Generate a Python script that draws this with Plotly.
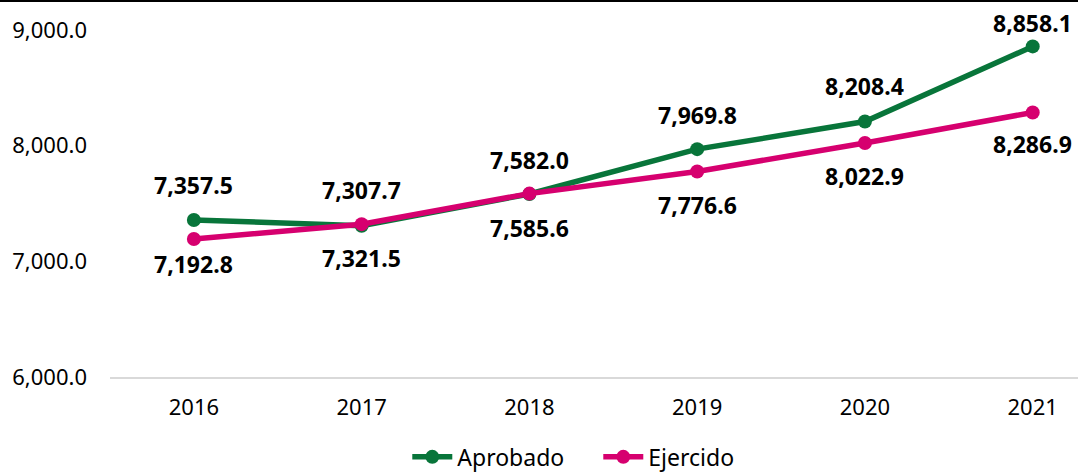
import plotly.graph_objects as go

years = ["2016", "2017", "2018", "2019", "2020", "2021"]
aprobado = [7357.5, 7307.7, 7582.0, 7969.8, 8208.4, 8858.1]
ejercido = [7192.8, 7321.5, 7585.6, 7776.6, 8022.9, 8286.9]
y_ticks = [6000, 7000, 8000, 9000]

# label offsets (pixels) - styling, kept separate from data
shift_above = [35, 36, 34, 34, 36, 23]
shift_below = [-25, -34, -34, -33, -33, -32]

GREEN = "#08753A"
PINK = "#D6006F"
FONT = "Noto Sans"

fig = go.Figure()
fig.add_trace(go.Scatter(
    x=years, y=aprobado, name="Aprobado", mode="lines+markers",
    line=dict(color=GREEN, width=5.5), marker=dict(size=14, color=GREEN),
    cliponaxis=False,
))
fig.add_trace(go.Scatter(
    x=years, y=ejercido, name="Ejercido", mode="lines+markers",
    line=dict(color=PINK, width=5.5), marker=dict(size=14, color=PINK),
    cliponaxis=False,
))

annotations = []
for i, yv in enumerate(aprobado):
    annotations.append(dict(x=i, y=yv, text=f"<b>{yv:,.1f}</b>", showarrow=False,
                            yshift=shift_above[i], font=dict(family=FONT, size=23, color="#000000"),
                            xref="x", yref="y"))
for i, yv in enumerate(ejercido):
    annotations.append(dict(x=i, y=yv, text=f"<b>{yv:,.1f}</b>", showarrow=False,
                            yshift=shift_below[i], font=dict(family=FONT, size=23, color="#000000"),
                            xref="x", yref="y"))

T, B = 30, 96
plot_h = 473 - T - B
fig.update_layout(
    width=1078, height=473,
    margin=dict(l=110, r=0, t=T, b=B, pad=0),
    paper_bgcolor="white", plot_bgcolor="white",
    font=dict(family=FONT, size=22, color="#000000"),
    showlegend=True,
    legend=dict(orientation="h", xref="container", x=0.555, xanchor="center",
                yref="container", y=0.034, yanchor="middle",
                font=dict(family=FONT, size=23, color="#000000"),
                itemwidth=40, entrywidth=136, entrywidthmode="pixels", tracegroupgap=0),
    annotations=annotations,
    shapes=[dict(type="line", xref="paper", yref="paper",
                 x0=-110 / 968, x1=1.0, y0=1 + (T - 1) / plot_h, y1=1 + (T - 1) / plot_h,
                 line=dict(color="#000000", width=2))],
)
fig.update_xaxes(
    type="category", range=[-0.5, 5.27], showgrid=False, zeroline=False,
    showline=True, linecolor="#D9D9D9", linewidth=2, ticks="",
    ticklabelstandoff=10, tickfont=dict(family=FONT, size=22, color="#000000"),
)
fig.update_yaxes(
    range=[6000, 9000], tickvals=y_ticks, tickformat=",.1f",
    showgrid=False, zeroline=False, showline=False, ticks="",
    ticklabelstandoff=22, tickfont=dict(family=FONT, size=22, color="#000000"),
)

fig.write_html("out.html", config={"displayModeBar": False},
               post_script="document.body.style.margin='0';document.body.style.overflow='hidden';")
